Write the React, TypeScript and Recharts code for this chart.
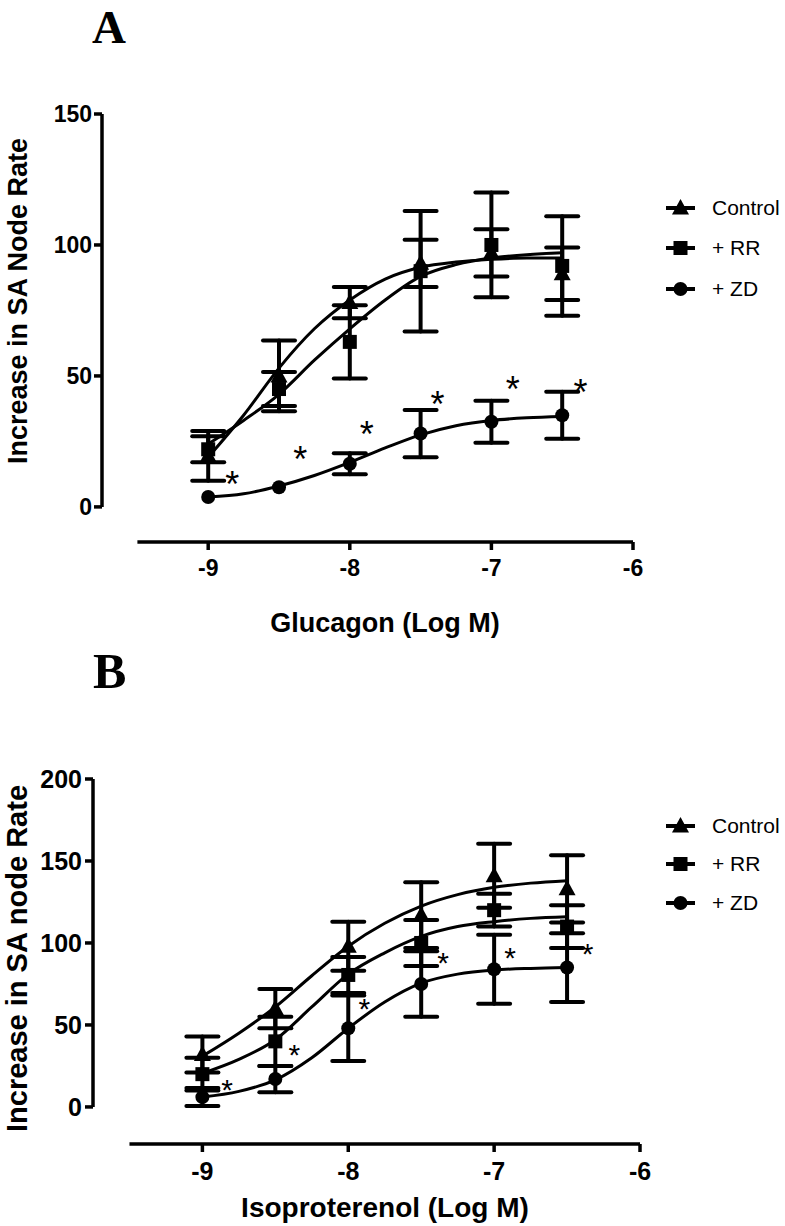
import React from 'react'
import {
  ComposedChart, Line, Scatter, ErrorBar, XAxis, YAxis, ReferenceLine, Label
} from 'recharts'

// dose points (log M) and the grid used to trace the fitted curves
const doses = [-9, -8.5, -8, -7.5, -7, -6.5]
const fitDoses = [-9, -8.75, -8.5, -8.25, -8, -7.75, -7.5, -7.25, -7, -6.75, -6.5]
const xTicks = [-9, -8, -7, -6]
const seriesNames = ['Control', '+ RR', '+ ZD']

// Panel A - glucagon
const glucControl = [19.5, 50, 78, 93, 97, 89]
const glucControlSem = [9.5, 13.5, 6, 9, 9, 10]
const glucRR = [22, 45, 63, 90, 100, 92]
const glucRRSem = [5, 6.5, 14, 23, 20, 19]
const glucZD = [3.8, 7.5, 16.5, 28, 32.5, 35]
const glucZDSem = [0, 0, 4, 9, 8, 9]
const glucControlFit = [19, 35, 53, 68, 79, 87, 91.5, 93.5, 94.5, 95, 95]
const glucRRFit = [24, 33, 43, 56, 68, 79, 88, 92.5, 95, 96.3, 97]
const glucZDFit = [3.8, 5, 8, 12, 17, 22.5, 27.5, 31, 33, 34, 34.5]
const glucStarX = [-8.83, -8.35, -7.88, -7.38, -6.85, -6.37]
const glucStarY = [11.5, 21, 30.5, 42, 47.7, 46.6]
const glucYTicks = [0, 50, 100, 150]

// Panel B - isoproterenol
const isoControl = [32, 60, 98, 117, 141, 133]
const isoControlSem = [11, 12, 15, 20, 19.5, 20.5]
const isoRR = [20, 40, 80.5, 100, 120, 110]
const isoRRSem = [10, 15, 11, 14, 10, 13]
const isoZD = [6, 17, 48, 75, 84, 85]
const isoZDSem = [5.5, 8, 20, 20, 21, 21]
const isoControlFit = [31, 45, 61, 80, 98, 112, 122.5, 129.5, 134, 136.5, 138]
const isoRRFit = [20.5, 29, 41, 61, 81, 94, 104, 110, 113, 115, 116]
const isoZDFit = [6, 9.5, 16.5, 30, 48, 64, 75.5, 81, 83.5, 84.5, 85]
const isoStarX = [-8.83, -8.37, -7.89, -7.35, -6.89, -6.36]
const isoStarY = [14.6, 35.4, 64, 91.5, 95, 97]
const isoYTicks = [0, 50, 100, 150, 200]

const FONT = '"Liberation Sans", Arial, sans-serif'
const SERIF = '"Liberation Serif", "Times New Roman", serif'
const kinds = ['triangle', 'square', 'circle']

const toPoints = (ys: number[], errs: number[]) => doses.map((x, i) => ({ x, y: ys[i], err: errs[i] }))
const toCurve = (ys: number[]) => fitDoses.map((x, i) => ({ x, y: ys[i] }))
const toStars = (xs: number[], ys: number[]) => xs.map((x, i) => ({ x, y: ys[i] }))

function Marker({ kind, cx, cy }: { kind: string, cx: number, cy: number }) {
  if (kind === 'triangle') {
    return <polygon points={`${cx},${cy - 9} ${cx - 8.5},${cy + 6.5} ${cx + 8.5},${cy + 6.5}`} fill="#000" />
  }
  if (kind === 'square') {
    return <rect x={cx - 7} y={cy - 7} width={14} height={14} fill="#000" />
  }
  return <circle cx={cx} cy={cy} r={7} fill="#000" />
}

type PanelProps = {
  top: number
  height: number
  margin: { top: number, right: number, bottom: number, left: number }
  yDomain: [number, number]
  yTicks: number[]
  yMax: number
  means: number[][]
  sems: number[][]
  fits: number[][]
  stars: { x: number, y: number }[]
  xTitle: string
  yTitle: string
  tickFont: number
  titleFont: number
  yTitleFont: number
  starFont: number
  xLabelShift: [number, number]
  yLabelShift: [number, number]
  tickGap: number
}

function Panel(p: PanelProps) {
  const xMin = -9.75
  return (
    <div style={{ position: 'absolute', left: 0, top: p.top }}>
      <ComposedChart width={785} height={p.height} margin={p.margin}>
        <XAxis
          type="number" dataKey="x" domain={[xMin, -6]} ticks={xTicks} allowDataOverflow
          height={60} axisLine={false} tickSize={8} tickMargin={10}
          tickLine={{ stroke: '#000', strokeWidth: 3.5 }}
          tick={{ fill: '#000', fontSize: p.tickFont, fontWeight: 700, fontFamily: FONT }}
        >
          <Label value={p.xTitle} position="center" dx={p.xLabelShift[0]} dy={p.xLabelShift[1]}
            style={{ fill: '#000', fontSize: p.titleFont, fontWeight: 700, fontFamily: FONT }} />
        </XAxis>
        <YAxis
          type="number" domain={p.yDomain} ticks={p.yTicks} allowDataOverflow
          width={60} axisLine={false} tickSize={8} tickMargin={p.tickGap}
          tickLine={{ stroke: '#000', strokeWidth: 3.5 }}
          tick={{ fill: '#000', fontSize: p.tickFont, fontWeight: 700, fontFamily: FONT }}
        >
          <Label value={p.yTitle} position="center" angle={-90} dx={p.yLabelShift[0]} dy={p.yLabelShift[1]}
            style={{ fill: '#000', fontSize: p.yTitleFont, fontWeight: 700, fontFamily: FONT, textAnchor: 'middle' }} />
        </YAxis>

        <ReferenceLine segment={[{ x: -9.5, y: p.yDomain[0] }, { x: -6, y: p.yDomain[0] }]}
          stroke="#000" strokeWidth={3.5} ifOverflow="visible" />
        <ReferenceLine segment={[{ x: xMin, y: 0 }, { x: xMin, y: p.yMax }]}
          stroke="#000" strokeWidth={3.5} ifOverflow="visible" />

        {p.fits.map((f, i) => (
          <Line key={'fit' + i} data={toCurve(f)} dataKey="y" type="monotone" stroke="#000"
            strokeWidth={3} dot={false} activeDot={false} isAnimationActive={false} />
        ))}

        {p.means.map((m, i) => (
          <Scatter key={'pts' + i} data={toPoints(m, p.sems[i])} dataKey="y" isAnimationActive={false}
            shape={(props: any) => <Marker kind={kinds[i]} cx={props.cx} cy={props.cy} />}>
            <ErrorBar dataKey="err" direction="y" width={16} stroke="#000" strokeWidth={4}
              strokeLinecap="round" isAnimationActive={false} />
          </Scatter>
        ))}

        <Scatter data={p.stars} dataKey="y" isAnimationActive={false}
          shape={(props: any) => (
            <text x={props.cx} y={props.cy + p.starFont * 0.55} textAnchor="middle"
              fontSize={p.starFont} fontFamily={FONT} fill="#000">*</text>
          )} />
      </ComposedChart>
    </div>
  )
}

function LegendBlock({ x, ys }: { x: number, ys: number[] }) {
  return (
    <g>
      {seriesNames.map((name, i) => (
        <g key={name}>
          <line x1={x} x2={x + 29} y1={ys[i]} y2={ys[i]} stroke="#000" strokeWidth={4} />
          <Marker kind={kinds[i]} cx={x + 14.5} cy={ys[i]} />
          <text x={x + 46} y={ys[i] + 7} fontSize={21} fontFamily={FONT} fill="#000">{name}</text>
        </g>
      ))}
    </g>
  )
}

export default function App() {
  return (
    <div style={{ position: 'absolute', left: 0, top: 0, width: 785, height: 1226, background: '#fff' }}>
      <Panel
        top={0} height={640}
        margin={{ top: 114, right: 152, bottom: 38, left: 42 }}
        yDomain={[-13.4, 150]} yTicks={glucYTicks} yMax={150}
        means={[glucControl, glucRR, glucZD]}
        sems={[glucControlSem, glucRRSem, glucZDSem]}
        fits={[glucControlFit, glucRRFit, glucZDFit]}
        stars={toStars(glucStarX, glucStarY)}
        xTitle="Glucagon (Log M)" yTitle="Increase in SA Node Rate"
        tickFont={23} titleFont={27} yTitleFont={27} starFont={36}
        xLabelShift={[17.5, 50]} yLabelShift={[-55, -27]} tickGap={2}
      />
      <Panel
        top={650} height={576}
        margin={{ top: 129, right: 145, bottom: 22, left: 33 }}
        yDomain={[-22.6, 200]} yTicks={isoYTicks} yMax={200}
        means={[isoControl, isoRR, isoZD]}
        sems={[isoControlSem, isoRRSem, isoZDSem]}
        fits={[isoControlFit, isoRRFit, isoZDFit]}
        stars={toStars(isoStarX, isoStarY)}
        xTitle="Isoproterenol (Log M)" yTitle="Increase in SA node Rate"
        tickFont={25} titleFont={28} yTitleFont={29} starFont={30}
        xLabelShift={[18.5, 33]} yLabelShift={[-46, -3]} tickGap={3}
      />
      <svg width={785} height={1226} style={{ position: 'absolute', left: 0, top: 0, pointerEvents: 'none' }}>
        <text x={92} y={43} fontSize={47} fontWeight={700} fontFamily={SERIF} fill="#000">A</text>
        <text x={93} y={688} fontSize={50} fontWeight={700} fontFamily={SERIF} fill="#000">B</text>
        <LegendBlock x={666} ys={[208, 248, 289]} />
        <LegendBlock x={666} ys={[826, 864, 903]} />
      </svg>
    </div>
  )
}
